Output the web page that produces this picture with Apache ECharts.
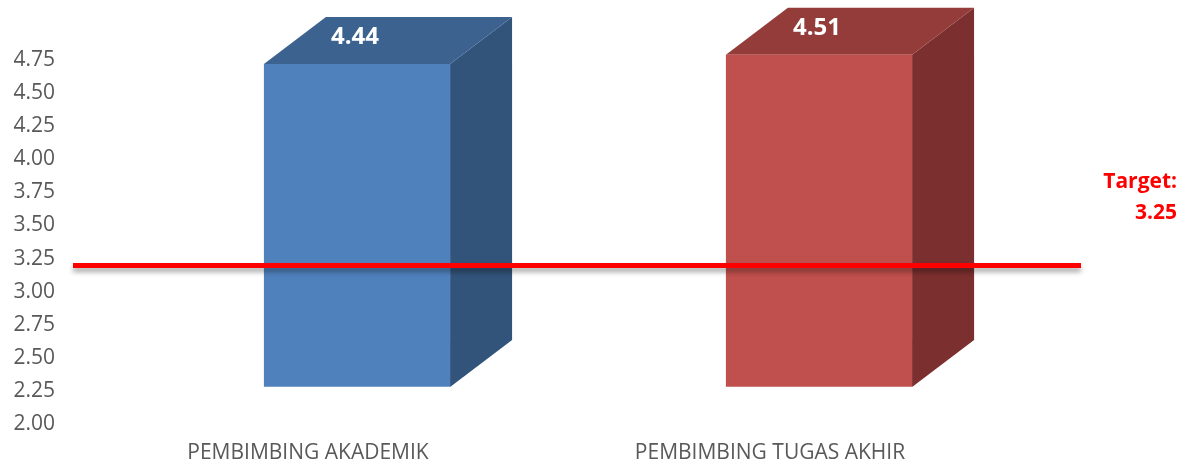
<!DOCTYPE html>
<html>
<head>
<meta charset="utf-8">
<script src="https://cdn.jsdelivr.net/npm/echarts@6/dist/echarts.min.js"></script>
<style>
  html, body { margin: 0; padding: 0; background: #fff; }
  #chart { width: 1181px; height: 466px; }
</style>
</head>
<body>
<div id="chart"></div>
<script>
// data
const categories = ['PEMBIMBING AKADEMIK', 'PEMBIMBING TUGAS AKHIR']
const scores = [4.44, 4.51]
const target = 3.25
const yMin = 2
const yMax = 4.75
const yStep = 0.25

// face colours: front, top, side
const faceColors = [
  ['#4f81bd', '#3c6290', '#32537a'],
  ['#c0504d', '#943c3a', '#7b2f2e']
]
const depthX = 62
const depthY = 47

function renderBox (params, api) {
  const idx = api.value(0)
  const val = api.value(1)
  const top = api.coord([idx, val])
  const base = api.coord([idx, yMin])
  const w = api.size([1, 0])[0] * 0.403
  const x0 = top[0] - w / 2
  const x1 = top[0] + w / 2
  const yt = top[1]
  const yb = base[1]
  const c = faceColors[idx]
  return {
    type: 'group',
    children: [
      {
        type: 'polygon',
        shape: { points: [[x1, yt], [x1 + depthX, yt - depthY], [x1 + depthX, yb - depthY], [x1, yb]] },
        style: { fill: c[2] }
      },
      {
        type: 'polygon',
        shape: { points: [[x0, yt], [x0 + depthX, yt - depthY], [x1 + depthX, yt - depthY], [x1, yt]] },
        style: { fill: c[1] }
      },
      {
        type: 'rect',
        shape: { x: x0, y: yt, width: w, height: yb - yt },
        style: { fill: c[0] }
      },
      {
        type: 'line',
        shape: { x1: x0, y1: yb, x2: x1, y2: yb },
        style: { stroke: 'rgba(255,255,255,0.5)', lineWidth: 1 }
      },
      {
        type: 'text',
        x: top[0] - 2,
        y: yt - 27,
        style: {
          text: val.toFixed(2),
          fill: '#ffffff',
          font: 'bold 24px "Open Sans"',
          align: 'center',
          verticalAlign: 'middle'
        }
      }
    ]
  }
}

function renderTarget (params, api) {
  const y = api.coord([0, api.value(0)])[1] + 7
  const cs = params.coordSys
  return {
    type: 'group',
    children: [
      {
        type: 'line',
        shape: { x1: cs.x - 4, y1: y, x2: cs.x + cs.width + 80, y2: y },
        style: {
          stroke: '#ff0000',
          lineWidth: 5,
          shadowColor: 'rgba(0,0,0,0.35)',
          shadowBlur: 5,
          shadowOffsetY: 4
        }
      },
      {
        type: 'text',
        x: 1177,
        y: y - 68,
        style: {
          text: 'Target:\n' + api.value(0).toFixed(2),
          fill: '#ff0000',
          font: 'bold 21px "Open Sans"',
          lineHeight: 31,
          align: 'right',
          verticalAlign: 'middle'
        }
      }
    ]
  }
}

const chart = echarts.init(document.getElementById('chart'))
chart.setOption({
  animation: false,
  grid: [
    { left: 77, right: 180, top: 60, bottom: 42 },
    { left: 126, right: 131, top: 23, bottom: 79 }
  ],
  xAxis: [
    {
      gridIndex: 0,
      type: 'category',
      data: categories,
      axisLine: { show: false },
      axisTick: { show: false },
      axisLabel: { margin: 19, color: '#595959', fontSize: 21, fontFamily: 'Open Sans' }
    },
    {
      gridIndex: 1,
      type: 'category',
      data: categories,
      show: false
    }
  ],
  yAxis: [
    {
      gridIndex: 0,
      type: 'value',
      min: yMin,
      max: yMax,
      interval: yStep,
      splitLine: { show: false },
      axisLine: { show: false },
      axisTick: { show: false },
      axisLabel: {
        margin: 22,
        color: '#595959',
        fontSize: 21,
        fontFamily: 'Open Sans',
        formatter: v => v.toFixed(2)
      }
    },
    {
      gridIndex: 1,
      type: 'value',
      min: yMin,
      max: yMax,
      show: false
    }
  ],
  series: [
    {
      type: 'custom',
      xAxisIndex: 1,
      yAxisIndex: 1,
      renderItem: renderBox,
      data: scores.map((v, i) => [i, v])
    },
    {
      type: 'custom',
      xAxisIndex: 0,
      yAxisIndex: 0,
      renderItem: renderTarget,
      data: [[target]],
      z: 5
    }
  ]
})
</script>
</body>
</html>
